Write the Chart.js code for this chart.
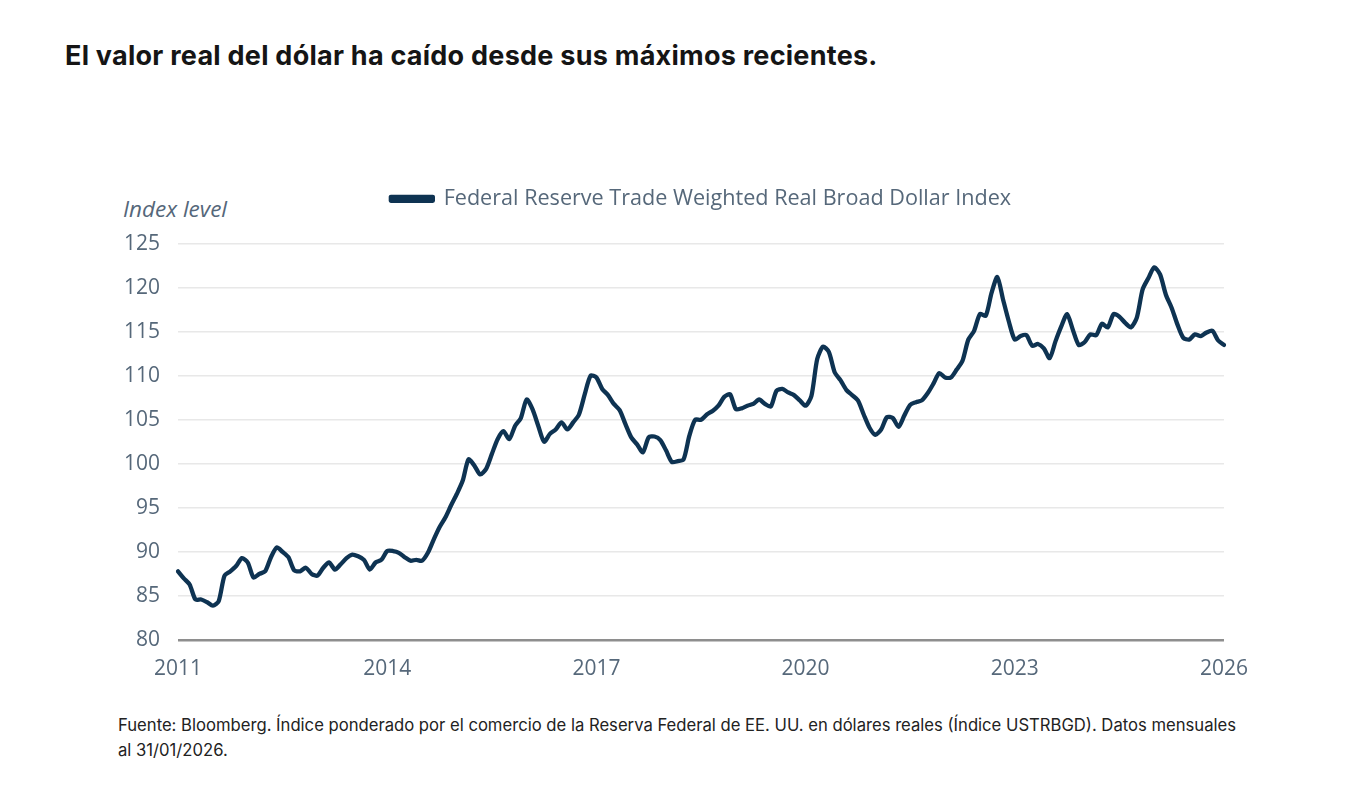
<!DOCTYPE html>
<html>
<head>
<meta charset="utf-8">
<script src="https://cdn.jsdelivr.net/npm/chart.js@4.4.1/dist/chart.umd.min.js"></script>
<style>
  body { margin: 0; background: #fff; width: 1353px; height: 788px; position: relative; overflow: hidden; }
  #title { position: absolute; left: 65px; top: 39px; font-family: "Inter", sans-serif; font-weight: 700; font-size: 27px; color: #151515; letter-spacing: 0.25px; }
  #unit { position: absolute; left: 123px; top: 193px; font-family: "Open Sans", sans-serif; font-style: italic; font-size: 22.5px; color: #55677a; }
  #wrap { position: absolute; left: 110px; top: 178px; width: 1146px; height: 502px; }
  #note { position: absolute; left: 118px; top: 713px; width: 1200px; font-family: "Inter", sans-serif; font-size: 16.65px; line-height: 25px; color: #222; }
</style>
</head>
<body>
<div id="title">El valor real del dólar ha caído desde sus máximos recientes.</div>
<div id="unit">Index level</div>
<div id="wrap"><canvas id="dollar-chart"></canvas></div>
<div id="note">Fuente: Bloomberg. Índice ponderado por el comercio de la Reserva Federal de EE. UU. en dólares reales (Índice USTRBGD). Datos mensuales<br>al 31/01/2026.</div>
<script>
// monthly values, Jan 2011 .. Jan 2026
var index2011 = [87.8, 87.0, 86.3, 84.6, 84.6, 84.3, 83.9, 84.4, 87.3, 87.8, 88.4, 89.3];
var index2012 = [88.8, 87.1, 87.5, 87.8, 89.4, 90.5, 90.0, 89.4, 87.9, 87.8, 88.2, 87.5];
var index2013 = [87.3, 88.2, 88.8, 88.0, 88.6, 89.3, 89.7, 89.5, 89.1, 88.0, 88.8, 89.1];
var index2014 = [90.1, 90.1, 89.9, 89.4, 89.0, 89.1, 89.0, 89.9, 91.4, 92.8, 93.9, 95.3];
var index2015 = [96.6, 98.1, 100.5, 99.8, 98.8, 99.4, 101.1, 102.8, 103.7, 102.8, 104.3, 105.2];
var index2016 = [107.3, 106.2, 104.3, 102.5, 103.4, 103.9, 104.7, 103.9, 104.7, 105.6, 107.9, 110.0];
var index2017 = [109.8, 108.5, 107.8, 106.8, 106.1, 104.5, 103.0, 102.2, 101.3, 103.0, 103.1, 102.7];
var index2018 = [101.5, 100.2, 100.3, 100.5, 103.2, 105.0, 105.0, 105.6, 106.0, 106.6, 107.6, 107.9];
var index2019 = [106.2, 106.3, 106.6, 106.8, 107.3, 106.8, 106.5, 108.3, 108.5, 108.1, 107.8, 107.2];
var index2020 = [106.6, 107.7, 111.9, 113.3, 112.7, 110.4, 109.5, 108.4, 107.8, 107.2, 105.6, 104.1];
var index2021 = [103.3, 103.9, 105.3, 105.2, 104.2, 105.5, 106.7, 107.0, 107.2, 108.0, 109.1, 110.3];
var index2022 = [109.8, 109.8, 110.7, 111.7, 114.1, 115.1, 117.0, 116.8, 119.4, 121.2, 118.6, 116.1];
var index2023 = [114.1, 114.5, 114.6, 113.4, 113.6, 113.1, 112.0, 113.9, 115.6, 117.0, 115.2, 113.5];
var index2024 = [113.8, 114.7, 114.6, 115.9, 115.5, 117.0, 116.7, 116.0, 115.5, 116.6, 119.8, 121.1];
var index2025 = [122.3, 121.5, 119.2, 117.7, 115.8, 114.3, 114.1, 114.7, 114.5, 114.9, 115.1, 114.0];
var index2026 = [113.5];

var tickYears = ["2011", "2014", "2017", "2020", "2023", "2026"];
var yTicks = [80, 85, 90, 95, 100, 105, 110, 115, 120, 125];
var seriesName = "Federal Reserve Trade Weighted Real Broad Dollar Index";

var values = [].concat(index2011, index2012, index2013, index2014, index2015, index2016,
  index2017, index2018, index2019, index2020, index2021, index2022, index2023, index2024,
  index2025, index2026);

// one label per month, "2011-01" ...
var months = [];
for (var i = 0; i < values.length; i++) {
  var yr = 2011 + Math.floor(i / 12);
  var mo = (i % 12) + 1;
  months.push(yr + "-" + (mo < 10 ? "0" + mo : mo));
}

var navy = "#0e3352";
var tickGrey = "#56687a";

// leave room under the legend
var legendGap = {
  id: "legendGap",
  beforeInit: function(chart) {
    var fit = chart.legend.fit;
    chart.legend.fit = function() {
      fit.bind(chart.legend)();
      this.height += 24;
    };
  }
};

var ctx = document.getElementById("dollar-chart").getContext("2d");
var myChart = new Chart(ctx, {
  type: "line",
  data: {
    labels: months,
    datasets: [{
      label: seriesName,
      data: values,
      borderColor: navy,
      backgroundColor: navy,
      borderWidth: 4.3,
      pointRadius: 0,
      tension: 0.25,
      borderJoinStyle: "round",
      borderCapStyle: "round"
    }]
  },
  options: {
    responsive: true,
    maintainAspectRatio: false,
    animation: false,
    layout: { padding: { right: 28, bottom: 0, top: 0 } },
    plugins: {
      tooltip: { enabled: false },
      legend: {
        display: true,
        position: "top",
        fullSize: false,
        labels: {
          boxWidth: 42,
          boxHeight: 4,
          padding: 10,
          color: tickGrey,
          font: { family: "Open Sans", size: 21.6 }
        }
      }
    },
    scales: {
      x: {
        grid: { display: false },
        border: { display: false },
        ticks: {
          autoSkip: false,
          maxRotation: 0,
          padding: 8,
          color: tickGrey,
          font: { family: "Open Sans", size: 21 },
          callback: function(val, i) {
            var lab = months[i];
            if (lab.slice(5) !== "01") return null;
            var yr = lab.slice(0, 4);
            return tickYears.indexOf(yr) >= 0 ? yr : null;
          }
        },
        afterFit: function(scale) { scale.height = 40; }
      },
      y: {
        min: yTicks[0],
        max: yTicks[yTicks.length - 1],
        border: { display: false },
        grid: {
          drawTicks: false,
          color: function(c) { return c.tick.value === yTicks[0] ? "#8e8e8e" : "#e8e8e8"; },
          lineWidth: function(c) { return c.tick.value === yTicks[0] ? 2.5 : 1.5; }
        },
        ticks: {
          stepSize: 5,
          padding: 18,
          color: tickGrey,
          font: { family: "Open Sans", size: 21 }
        },
        afterFit: function(scale) { scale.width = 68; }
      }
    }
  },
  plugins: [legendGap]
});
</script>
</body>
</html>
